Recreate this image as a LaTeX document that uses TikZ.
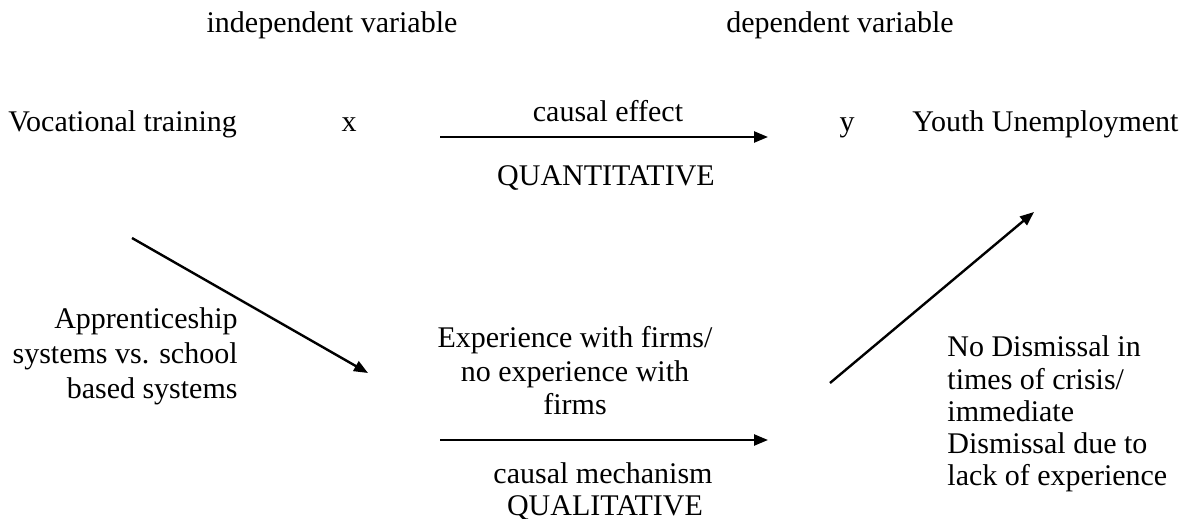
\documentclass[tikz,border=0pt]{standalone}
\usepackage{fontspec}
\setmainfont{Liberation Serif}
\usetikzlibrary{arrows.meta}
\begin{document}
\begin{tikzpicture}[x=0.5pt,y=-0.5pt,font=\fontsize{15}{17}\selectfont,
        every node/.style={inner sep=0pt},
        link/.style={line width=1.2pt,-{Triangle[length=7pt,width=5.5pt]}}]
        \useasboundingbox (0,0) rectangle (1194,519);
        % variables
        \node[anchor=base] (indep) at (332,33) {independent variable};
        \node[anchor=base] (dep) at (840,33) {dependent variable};
        \node[anchor=base west] (voc) at (8,132) {Vocational training};
        \node[anchor=base] (x) at (349,132) {x};
        \node[anchor=base] (y) at (847,132) {y};
        \node[anchor=base west] (youth) at (912,132) {Youth Unemployment};
        % upper path
        \coordinate (effstart) at (440,137);
        \coordinate (effend) at (768,137);
        \draw[link] (effstart) -- (effend);
        \node[anchor=base] (effect) at (608,122) {causal effect};
        \node[anchor=base] (quant) at (606,185) {QUANTITATIVE};
        % lower path
        \node[anchor=east,align=right,font=\fontsize{15}{17.5}\selectfont] (appr) at (238,356)
            {Apprenticeship\\systems vs. school\\based systems};
        \node[align=center,font=\fontsize{15}{16.75}\selectfont] (exper) at (575,371)
            {Experience with firms/\\no experience with\\firms};
        \node[anchor=west,align=left,font=\fontsize{15}{16.1}\selectfont] (dismiss) at (947,414)
            {No Dismissal in\\times of crisis/\\immediate\\Dismissal due to\\lack of experience};
        \coordinate (down0) at (132,238);
        \coordinate (down1) at (368,373);
        \draw[link] (down0) -- (down1);
        \coordinate (mechstart) at (440,440);
        \coordinate (mechend) at (768,440);
        \draw[link] (mechstart) -- (mechend);
        \coordinate (up0) at (830,383);
        \coordinate (up1) at (1034,212);
        \draw[link] (up0) -- (up1);
        \node[anchor=base] (mech) at (603,483) {causal mechanism};
        \node[anchor=base] (qual) at (605,515) {QUALITATIVE};
    \end{tikzpicture}
\end{document}
